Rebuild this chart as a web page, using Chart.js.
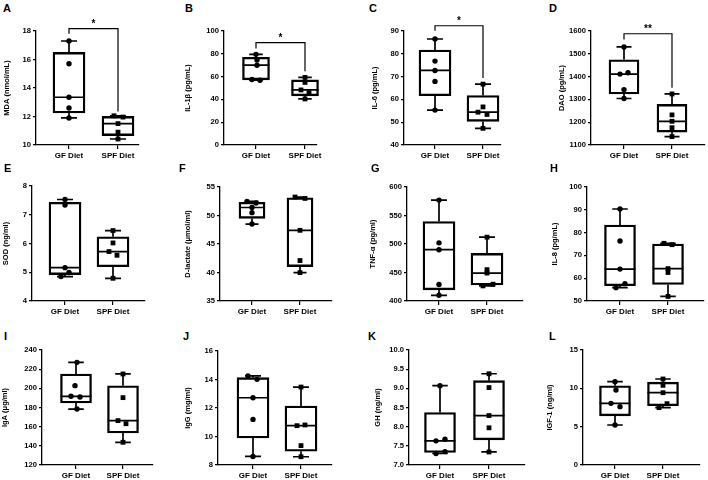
<!DOCTYPE html>
<html>
<head>
<meta charset="utf-8">
<script src="https://cdn.jsdelivr.net/npm/chart.js@4.4.1/dist/chart.umd.min.js"></script>
<style>
  body { margin: 0; background: #fff; }
  #wrap { position: relative; width: 708px; height: 480px; overflow: hidden; }
  #wrap canvas { position: absolute; }
  .tag { position: absolute; font: bold 11px "Liberation Sans", Arial, sans-serif; line-height: 11px; color: #000; }
</style>
</head>
<body>
<div id="wrap"></div>
<script>
const FONT = '"Liberation Sans", Arial, sans-serif';
const groups = ['GF Diet', 'SPF Diet'];
const tags = ['A', 'B', 'C', 'D', 'E', 'F', 'G', 'H', 'I', 'J', 'K', 'L'];
const yTitles = ['MDA (nmol/mL)', 'IL-1β (pg/mL)', 'IL-6 (pg/mL)', 'DAO (pg/mL)',
  'SOD (ng/ml)', 'D-lactate (μmol/ml)', 'TNF-α (pg/ml)', 'IL-8 (pg/mL)',
  'IgA (μg/ml)', 'IgG (mg/ml)', 'GH (ng/ml)', 'IGF-1 (ng/ml)'];
// y axis [min, max, step]
const yTicks = [[10, 18, 2], [0, 100, 20], [40, 90, 10], [1100, 1600, 100],
  [4, 8, 1], [35, 55, 5], [400, 600, 50], [50, 100, 10],
  [120, 240, 20], [8, 16, 2], [7, 10, 0.5], [0, 15, 5]];

// values (5 animals per group)
const mdaGF = [17.3, 15.7, 13.35, 12.6, 11.9];
const mdaSPF = [12.05, 11.96, 11.5, 10.9, 10.42];
const il1bGF = [79.5, 74.5, 70, 57.5, 56.8];
const il1bSPF = [59.3, 54.9, 48.3, 45.9, 40.4];
const il6GF = [86.5, 76.8, 72.7, 67.9, 55.3];
const il6SPF = [66.7, 56.7, 54.4, 53.4, 47.3];
const daoGF = [1530, 1417, 1411, 1343, 1304];
const daoSPF = [1324, 1232, 1204, 1176, 1137];
const sodGF = [7.53, 7.34, 5.16, 4.99, 4.85];
const sodSPF = [6.45, 6.02, 5.72, 5.59, 4.79];
const dlacGF = [52.48, 52.18, 51.4, 50.5, 48.5];
const dlacSPF = [53.24, 53.0, 47.4, 42.1, 39.98];
const tnfGF = [577, 502, 490, 429, 410];
const tnfSPF = [512, 455, 449, 429.5, 426.5];
const il8GF = [90.35, 76.3, 64.0, 57.6, 55.85];
const il8SPF = [75.3, 74.7, 64.2, 62.5, 52];
const igaGF = [227.1, 202.8, 191.7, 191.0, 178.4];
const igaSPF = [215, 190.3, 166.3, 163.1, 143.7];
const iggGF = [14.25, 14.01, 12.72, 11.2, 8.6];
const iggSPF = [13.47, 10.81, 10.76, 9.36, 8.58];
const ghGF = [9.07, 7.67, 7.63, 7.35, 7.30];
const ghSPF = [9.38, 9.02, 8.29, 7.97, 7.34];
const igf1GF = [10.87, 9.78, 8.04, 7.61, 5.22];
const igf1SPF = [11.22, 10.39, 9.43, 8.0, 7.48];

const gfValues = [mdaGF, il1bGF, il6GF, daoGF, sodGF, dlacGF, tnfGF, il8GF, igaGF, iggGF, ghGF, igf1GF];
const spfValues = [mdaSPF, il1bSPF, il6SPF, daoSPF, sodSPF, dlacSPF, tnfSPF, il8SPF, igaSPF, iggSPF, ghSPF, igf1SPF];

// significance brackets: [top, left foot, right foot, label]
const brackets = [[18.16, 17.8, 12.35, '*'], [89.8, 84.6, 64.8, '*'], [92.3, 90.1, 69.4, '*'], [1588, 1563, 1351, '**'],
  null, null, null, null, null, null, null, null];

// pixel frame per panel: axis x, x-axis end, top, bottom, GF x, SPF x, y-title centre, box width
const frames = [
  [36, 139, 31, 145, 69, 118, 7, 32],
  [224, 317, 31, 145, 256, 305, 188, 27],
  [404, 501, 31, 145, 435, 483, 375, 32],
  [591, 705, 31, 145, 624, 672, 562, 30],
  [32, 145, 186, 301, 65, 113, 6, 32],
  [220, 332, 187, 301, 252, 300, 188, 26],
  [407, 523, 187, 301, 439, 487, 373, 32],
  [587, 704, 187, 301, 620, 668, 555, 31],
  [42, 153, 350, 465, 76, 123, 5, 31],
  [218, 332, 351, 465, 253, 301, 188, 32],
  [409, 525, 350, 465, 440, 489, 378, 31],
  [583, 700, 350, 465, 615, 663, 550, 31]
];
const tagPos = [[3, 3], [185, 3], [369, 3], [549, 3], [4, 163], [179, 163], [371, 163], [550, 163],
  [4, 331], [183, 331], [368, 331], [549, 331]];
// horizontal scatter of the dots, px
const jitterGF = [[0,0,0,0,0],[0,1,1,-4,4],[0,0,0,0,0],[0,4,-4,0,0],[0,0,0,4,-4],[-5,4,0,0,0],
  [0,0,0,0,0],[0,0,0,5,-4],[1,-1,-5,4,1],[-5,4,0,0,0],[0,5,-4,5,-4],[0,1,-4,5,0]];
const jitterSPF = [[-4,5,0,0,0],[0,0,-4,4,0],[0,0,-5,4,0],[0,0,0,0,0],[0,0,-4,4,0],[-5,5,0,0,0],
  [0,0,0,6,-4],[-4,4,0,0,0],[0,0,-5,3,0],[0,4,-4,0,0],[0,0,0,0,0],[0,0,0,4,-4]];

function boxStats(vals) {
  const s = [...vals].sort((a, b) => a - b);
  return [s[0], (s[0] + s[1]) / 2, s[2], (s[3] + s[4]) / 2, s[4]];
}

Chart.defaults.font.family = FONT;
Chart.defaults.color = '#000';

const wrap = document.getElementById('wrap');
const PAD_TOP = 18, PAD_RIGHT = 20, X_H = 22;

for (let i = 0; i < 12; i++) {
  const [ax, right, top, bottom, gfx, spfx, tc, boxW] = frames[i];
  const yw = Math.round(ax - tc + 4.5);
  const unit = spfx - gfx;
  const xMin = 1 - (gfx - ax) / unit;
  const xMax = 2 + (right - spfx) / unit;
  const stats = [boxStats(gfValues[i]), boxStats(spfValues[i])];
  const br = brackets[i];

  const tag = document.createElement('div');
  tag.className = 'tag';
  tag.textContent = tags[i];
  tag.style.left = tagPos[i][0] + 'px';
  tag.style.top = tagPos[i][1] + 'px';
  wrap.appendChild(tag);

  const cv = document.createElement('canvas');
  cv.width = yw + (right - ax) + PAD_RIGHT;
  cv.height = PAD_TOP + (bottom - top) + X_H;
  cv.style.left = (ax - yw) + 'px';
  cv.style.top = (top - PAD_TOP) + 'px';
  wrap.appendChild(cv);

  const boxPlugin = {
    id: 'box' + i,
    beforeDatasetsDraw(chart) {
      const { ctx, scales: { x, y } } = chart;
      ctx.save();
      ctx.strokeStyle = '#000';
      ctx.lineWidth = 1.7;
      stats.forEach((s, g) => {
        const cx = x.getPixelForValue(g + 1);
        const half = boxW / 2, cap = boxW / 4;
        const yMin = y.getPixelForValue(s[0]), yMax = y.getPixelForValue(s[4]);
        const yMed = y.getPixelForValue(s[2]);
        ctx.beginPath();
        ctx.moveTo(cx - half, yMed); ctx.lineTo(cx + half, yMed);
        ctx.moveTo(cx, y.getPixelForValue(s[3])); ctx.lineTo(cx, yMax);
        ctx.moveTo(cx - cap, yMax); ctx.lineTo(cx + cap, yMax);
        ctx.moveTo(cx, y.getPixelForValue(s[1])); ctx.lineTo(cx, yMin);
        ctx.moveTo(cx - cap, yMin); ctx.lineTo(cx + cap, yMin);
        ctx.stroke();
      });
      ctx.restore();
    },
    afterDatasetsDraw(chart) {
      if (!br) return;
      const { ctx, scales: { x, y } } = chart;
      const xl = x.getPixelForValue(1), xr = x.getPixelForValue(2);
      const yt = y.getPixelForValue(br[0]);
      ctx.save();
      ctx.strokeStyle = '#000';
      ctx.lineWidth = 1.2;
      ctx.beginPath();
      ctx.moveTo(xl, y.getPixelForValue(br[1]));
      ctx.lineTo(xl, yt);
      ctx.lineTo(xr, yt);
      ctx.lineTo(xr, y.getPixelForValue(br[2]));
      ctx.stroke();
      ctx.fillStyle = '#000';
      ctx.font = 'bold 10px ' + FONT;
      ctx.textAlign = 'center';
      ctx.textBaseline = 'alphabetic';
      ctx.fillText(br[3], (xl + xr) / 2, yt - 1.5);
      ctx.restore();
    }
  };

  const tickFont = { size: 7.6, weight: 'bold', family: FONT };

  new Chart(cv, {
    type: 'bar',
    data: {
      datasets: [
        {
          type: 'scatter',
          data: gfValues[i].map((v, k) => ({ x: 1 + jitterGF[i][k] / unit, y: v })),
          pointStyle: 'circle',
          pointRadius: 2.7,
          backgroundColor: '#000',
          borderWidth: 0,
          clip: false
        },
        {
          type: 'scatter',
          data: spfValues[i].map((v, k) => ({ x: 2 + jitterSPF[i][k] / unit, y: v })),
          pointStyle: 'rect',
          pointRadius: 3.4,
          backgroundColor: '#000',
          borderWidth: 0,
          clip: false
        },
        {
          type: 'bar',
          data: stats.map((s, g) => ({ x: g + 1, y: [s[1], s[3]] })),
          backgroundColor: 'rgba(0,0,0,0)',
          borderColor: '#000',
          borderWidth: 1.7,
          borderSkipped: false,
          barThickness: boxW,
          clip: false
        }
      ]
    },
    options: {
      responsive: false,
      animation: false,
      devicePixelRatio: 1,
      events: [],
      layout: { padding: { top: PAD_TOP, right: PAD_RIGHT, left: 0, bottom: 0 } },
      plugins: { legend: { display: false }, tooltip: { enabled: false } },
      scales: {
        x: {
          type: 'linear',
          min: xMin,
          max: xMax,
          offset: false,
          afterBuildTicks: s => { s.ticks = [{ value: 1 }, { value: 2 }]; },
          afterFit: s => { s.height = X_H; },
          ticks: {
            callback: v => groups[Math.round(v) - 1],
            font: { size: 8, weight: 'bold', family: FONT },
            color: '#000',
            padding: 2,
            maxRotation: 0,
            autoSkip: false
          },
          grid: { display: true, drawOnChartArea: false, offset: false, tickLength: 4, color: '#000', lineWidth: 1.2 },
          border: { display: true, color: '#000', width: 1.3 }
        },
        y: {
          min: yTicks[i][0],
          max: yTicks[i][1],
          afterFit: s => { s.width = yw; },
          ticks: {
            stepSize: yTicks[i][2],
            callback: v => yTicks[i][2] < 1 ? v.toFixed(1) : v,
            font: tickFont,
            color: '#000',
            padding: 2
          },
          grid: { display: true, drawOnChartArea: false, tickLength: 3, color: '#000', lineWidth: 1.2 },
          border: { display: true, color: '#000', width: 1.3 },
          title: {
            display: true,
            text: yTitles[i],
            color: '#000',
            font: { size: 7.5, weight: 'bold', family: FONT },
            padding: 0
          }
        }
      }
    },
    plugins: [boxPlugin]
  });
}
</script>
</body>
</html>
